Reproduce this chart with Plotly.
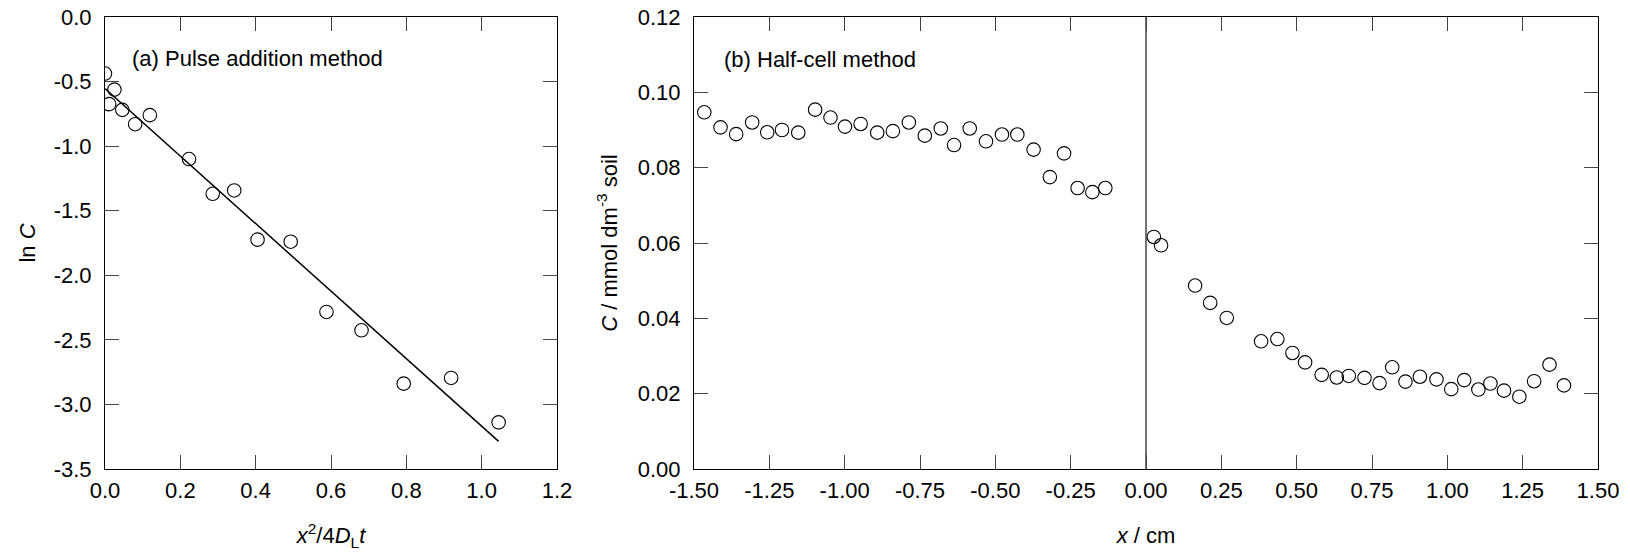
import plotly.graph_objects as go

# ---- Panel (a): pulse addition method ----
a_x = [0.000, 0.025, 0.011, 0.046, 0.080, 0.119, 0.223, 0.286, 0.343, 0.405, 0.493,
       0.588, 0.681, 0.793, 0.919, 1.045]
a_y = [-0.438, -0.562, -0.675, -0.719, -0.830, -0.760, -1.100, -1.369, -1.343, -1.724, -1.740,
       -2.284, -2.426, -2.839, -2.795, -3.139]
fit_x = [0.0, 1.045]
fit_y = [-0.554, -3.286]

# ---- Panel (b): half-cell method ----
b_x = [-1.466, -1.412, -1.360, -1.307, -1.257, -1.208, -1.154, -1.098, -1.047, -0.999,
       -0.947, -0.892, -0.840, -0.787, -0.734, -0.681, -0.637, -0.585, -0.531, -0.478,
       -0.427, -0.373, -0.319, -0.272, -0.227, -0.178, -0.135,
       0.026, 0.050, 0.163, 0.213, 0.268, 0.382, 0.436, 0.486, 0.528, 0.583, 0.633,
       0.673, 0.725, 0.775, 0.817, 0.861, 0.909, 0.964, 1.013, 1.056, 1.103, 1.143,
       1.188, 1.239, 1.288, 1.339, 1.387]
b_y = [0.0947, 0.0907, 0.0889, 0.0920, 0.0894, 0.0900, 0.0893, 0.0954, 0.0933, 0.0909,
       0.0916, 0.0893, 0.0897, 0.0920, 0.0885, 0.0904, 0.0860, 0.0904, 0.0870, 0.0888,
       0.0888, 0.0848, 0.0775, 0.0838, 0.0746, 0.0735, 0.0746,
       0.0616, 0.0594, 0.0487, 0.0441, 0.0401, 0.0339, 0.0345, 0.0308, 0.0283, 0.0250, 0.0243,
       0.0247, 0.0242, 0.0228, 0.0270, 0.0232, 0.0245, 0.0238, 0.0212, 0.0236, 0.0211, 0.0227,
       0.0208, 0.0192, 0.0233, 0.0277, 0.0222]

a_xticks = [0.0, 0.2, 0.4, 0.6, 0.8, 1.0, 1.2]
a_yticks = [0.0, -0.5, -1.0, -1.5, -2.0, -2.5, -3.0, -3.5]
b_xticks = [-1.5, -1.25, -1.0, -0.75, -0.5, -0.25, 0.0, 0.25, 0.5, 0.75, 1.0, 1.25, 1.5]
b_yticks = [0.0, 0.02, 0.04, 0.06, 0.08, 0.10, 0.12]

FONT = "Liberation Sans, Arial, sans-serif"
FS = 22

marker = dict(symbol="circle-open", size=13.5, color="black", line=dict(width=1.1, color="black"))

fig = go.Figure()
fig.add_trace(go.Scatter(x=a_x, y=a_y, mode="markers", marker=marker, xaxis="x", yaxis="y",
                         showlegend=False))
fig.add_trace(go.Scatter(x=fit_x, y=fit_y, mode="lines", line=dict(color="black", width=1.5),
                         xaxis="x", yaxis="y", showlegend=False))
fig.add_trace(go.Scatter(x=b_x, y=b_y, mode="markers", marker=marker, xaxis="x2", yaxis="y2",
                         showlegend=False))

axis_common = dict(
    showline=True, linecolor="black", linewidth=1, mirror="ticks",
    ticks="inside", ticklen=14, tickwidth=1, tickcolor="#444",
    showgrid=False, zeroline=False, automargin=False, ticklabeloverflow="allow",
    tickfont=dict(family=FONT, size=FS, color="black"),
)

# page body has an 8 px margin in the browser, so compensate
BODY = 8
W, H = 1630 - BODY, 557 - BODY
L, R, T, B = 105 - BODY, 32, 17 - BODY, 88
pw = W - L - R
d1 = [0, (557 - 105) / pw]
d2 = [(694 - 105) / pw, 1]

fig.update_layout(
    template="none",
    width=W, height=H,
    margin=dict(l=L, r=R, t=T, b=B, pad=0),
    paper_bgcolor="white", plot_bgcolor="white",
    font=dict(family=FONT, size=FS, color="black"),
    xaxis=dict(axis_common, domain=d1, range=[0, 1.2], tickvals=a_xticks,
               ticktext=[f"{v:.1f}" for v in a_xticks], anchor="y", ticklabelstandoff=2,
               title=dict(text="<i>x</i><sup>2</sup>/4<i>D</i><sub>L</sub><i>t</i>",
                          font=dict(family=FONT, size=FS), standoff=25)),
    yaxis=dict(axis_common, domain=[0, 1], range=[-3.5, 0], tickvals=a_yticks,
               ticktext=[f"{v:.1f}" for v in a_yticks], anchor="x", ticklabelstandoff=8,
               title=dict(text="ln <i>C</i>", font=dict(family=FONT, size=FS), standoff=11)),
    xaxis2=dict(axis_common, domain=d2, range=[-1.5, 1.5], tickvals=b_xticks,
                ticktext=[f"{v:.2f}" for v in b_xticks], anchor="y2", ticklabelstandoff=2,
                title=dict(text="<i>x</i> / cm", font=dict(family=FONT, size=FS), standoff=25)),
    yaxis2=dict(axis_common, domain=[0, 1], range=[0, 0.12], tickvals=b_yticks,
                ticktext=[f"{v:.2f}" for v in b_yticks], anchor="x2", ticklabelstandoff=8,
                title=dict(text="<i>C</i> / mmol dm<sup>-3</sup> soil",
                           font=dict(family=FONT, size=FS), standoff=14)),
    shapes=[dict(type="line", xref="x2", yref="y2 domain", x0=0, x1=0, y0=0, y1=1,
                 line=dict(color="#444", width=1.5), layer="below")],
    annotations=[
        dict(text="(a) Pulse addition method", xref="x", yref="y", x=0.066, y=-0.324,
             xanchor="left", yanchor="middle", showarrow=False,
             font=dict(family=FONT, size=FS, color="black")),
        dict(text="(b) Half-cell method", xref="x2", yref="y2", x=-1.406, y=0.1087,
             xanchor="left", yanchor="middle", showarrow=False,
             font=dict(family=FONT, size=FS, color="black")),
    ],
)

fig.write_html("out.html")
